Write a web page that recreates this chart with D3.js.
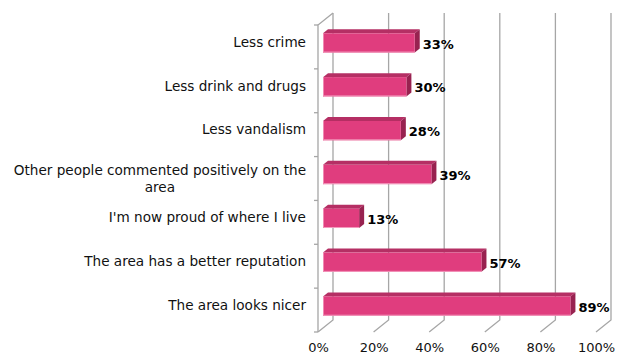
<!DOCTYPE html>
<html>
<head>
<meta charset="utf-8">
<script src="https://cdn.jsdelivr.net/npm/d3@7"></script>
<style>
  html, body { margin: 0; padding: 0; background: #fff; }
  svg { display: block; }
</style>
</head>
<body>
<svg id="chart" width="630" height="356"></svg>
<script>
// Survey results: share of respondents noting each change
const categories = [
  "Less crime",
  "Less drink and drugs",
  "Less vandalism",
  "Other people commented positively on the|area",
  "I'm now proud of where I live",
  "The area has a better reputation",
  "The area looks nicer"
];
const values = [33, 30, 28, 39, 13, 57, 89];
const tickValues = [0, 20, 40, 60, 80, 100];
const tickLabels = ["0%", "20%", "40%", "60%", "80%", "100%"];

const svg = d3.select("#chart");

// Plot geometry (front plane) and depth offset of the 3-D box
const x0 = 318, plotW = 278, yTop = 25, yBottom = 332;
const DX = 15, DY = -12;

const x = d3.scaleLinear().domain([0, 100]).range([x0, x0 + plotW]);
const y = d3.scaleBand().domain(categories).range([yTop, yBottom]);

const gridColor = "#a6a6a6";
const font = "DejaVu Sans, Verdana, sans-serif";

// Back-wall gridlines with their diagonal run across the floor
const grid = svg.append("g").attr("stroke", gridColor).attr("stroke-width", 1.3).attr("fill", "none");
tickValues.forEach(t => {
  const xb = x(t) + DX;
  grid.append("path").attr("d", `M${xb},${yTop + DY}V${yBottom + DY}L${x(t)},${yBottom}`);
});

// Category axis (left wall edge) with ticks
grid.append("path").attr("d", `M${x0 + DX},${yTop + DY}L${x0},${yTop}V${yBottom}`);
const bounds = categories.map(c => y(c)).concat([yBottom]);
bounds.forEach(b => {
  grid.append("line").attr("x1", x0 - 4).attr("x2", x0).attr("y1", b).attr("y2", b);
});

// 3-D bars, sitting in the middle third of the depth
const fx = DX / 3, fy = DY / 3;       // front face offset
const dx = DX / 3, dy = DY / 3;       // bar depth
const barH = y.bandwidth() * 0.44;

const bars = svg.append("g");
categories.forEach((c, i) => {
  const v = values[i];
  const left = x(0) + fx;
  const right = x(v) + fx;
  const top = y(c) + (y.bandwidth() - barH) / 2 + fy;
  const bottom = top + barH;
  const g = bars.append("g");
  // top face
  g.append("path")
    .attr("d", `M${left},${top}L${left + dx},${top + dy}L${right + dx},${top + dy}L${right},${top}Z`)
    .attr("fill", "#b52f64");
  // end face
  g.append("path")
    .attr("d", `M${right},${top}L${right + dx},${top + dy}L${right + dx},${bottom + dy}L${right},${bottom}Z`)
    .attr("fill", "#982250");
  // front face
  g.append("rect")
    .attr("x", left).attr("y", top)
    .attr("width", right - left).attr("height", barH)
    .attr("fill", "#e03d7e");
  g.append("line")
    .attr("x1", left).attr("x2", right)
    .attr("y1", bottom - 0.5).attr("y2", bottom - 0.5)
    .attr("stroke", "#f39abd").attr("stroke-width", 1);
  g.append("line")
    .attr("x1", left + 0.5).attr("x2", left + 0.5)
    .attr("y1", top).attr("y2", bottom)
    .attr("stroke", "#f08ab2").attr("stroke-width", 1);

  // value label
  svg.append("text")
    .attr("x", right + 8)
    .attr("y", top + barH / 2 + 1)
    .attr("dy", "0.36em")
    .attr("font-family", font)
    .attr("font-size", 13)
    .attr("font-weight", "bold")
    .attr("fill", "#000")
    .text(v + "%");
});

// Category labels
const labels = svg.append("g")
  .attr("font-family", font)
  .attr("font-size", 13.6)
  .attr("fill", "#111")
  .attr("text-anchor", "end");
categories.forEach(c => {
  const cy = y(c) + y.bandwidth() / 2;
  const lines = c.split("|");
  if (lines.length === 1) {
    labels.append("text").attr("x", 306).attr("y", cy - 5).attr("dy", "0.35em").text(c);
  } else {
    const t = labels.append("text").attr("x", 306).attr("y", cy - 8).attr("dy", "0.35em").text(lines[0]);
    const w = t.node().getComputedTextLength();
    // wrapped line is centred under the first one
    labels.append("text").attr("x", 306 - w / 2).attr("y", cy + 9).attr("dy", "0.35em")
      .attr("text-anchor", "middle")
      .text(lines[1]);
  }
});

// Value axis tick labels along the front edge of the floor
const axis = d3.axisBottom(x).tickValues(tickValues).tickFormat((d, i) => tickLabels[i]).tickSize(0).tickPadding(0);
const ax = svg.append("g").attr("transform", `translate(0,${yBottom + 11})`).call(axis);
ax.select(".domain").remove();
ax.selectAll("text")
  .attr("font-family", font)
  .attr("font-size", 13)
  .attr("fill", "#111");
</script>
</body>
</html>
